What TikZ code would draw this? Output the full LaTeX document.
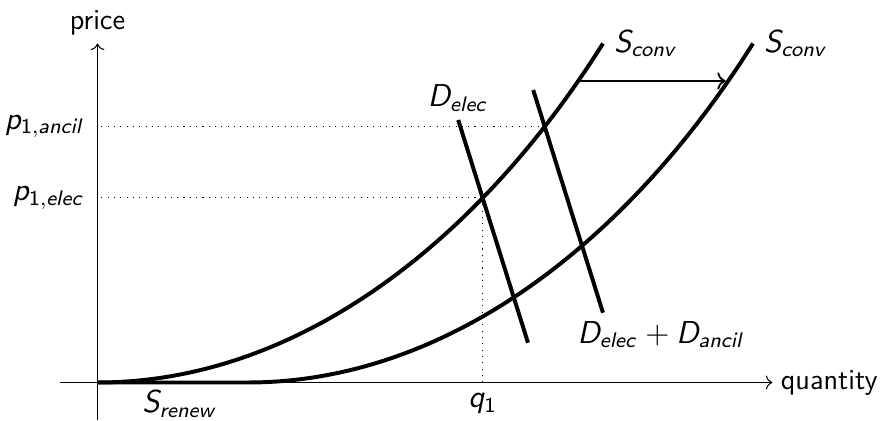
\documentclass[tikz,border=0pt]{standalone}
\usepackage{tikz}
\usetikzlibrary{arrows.meta, positioning, calc, intersections}
\renewcommand{\familydefault}{\sfdefault}
\DeclareMathAlphabet{\mathsfit}{OT1}{cmss}{m}{sl}
\SetSymbolFont{operators}{normal}{OT1}{cmss}{m}{n}
\newcommand{\mv}[1]{\mathsfit{#1}}
\tikzset{
    axis/.style={->, line width=0.4pt},
    supply/.style={line width=1.5pt},
    demand/.style={line width=1.5pt},
    guide/.style={dotted, line width=0.4pt},
    shiftarr/.style={->, line width=0.7pt, shorten >=1pt},
    lbl/.style={inner sep=3pt, font=\large},
    axislbl/.style={inner sep=3pt, font=\fontsize{11}{13}\selectfont},
}

\begin{document}
\begin{tikzpicture}

  \useasboundingbox (-1.3,-0.513) rectangle (10.567,5.1);

  % axes
  \coordinate (O) at (0,0);
  \draw[axis] (-0.5,0) -- (9,0) node[axislbl, right] (qty) {quantity};
  \draw[axis] (0,-0.5) -- (0,4.52) node[axislbl, above] (price) {price};

  % supply curves
  \draw[supply, name path=sconv] (O)
        .. controls (2.67,0) and (5.07,1.87) .. (6.74,4.52) coordinate (sconv end);
  \draw[supply, name path=sboth] (O) -- (2,0) coordinate (kink)
        .. controls (4.67,0) and (7.07,1.87) .. (8.74,4.52) coordinate (sboth end);

  \node[lbl, right=1pt of sconv end] (sconv lbl) {$\mv{S}_{\mv{conv}}$};
  \node[lbl, right=1pt of sboth end] (sboth lbl) {$\mv{S}_{\mv{conv}}$};
  \node[lbl, below=0pt] at ($(O)!0.55!(kink)$) (srenew lbl) {$\mv{S}_{\mv{renew}}$};

  % demand curves
  \draw[demand, name path=delec] (4.81,3.5) coordinate (delec top) -- (5.74,0.53) coordinate (delec bot);
  \draw[demand, name path=dtot] (5.81,3.9) coordinate (dtot top) -- (6.74,0.93) coordinate (dtot bot);

  \node[lbl, above=0pt of delec top] (delec lbl) {$\mv{D}_{\mv{elec}}$};
  \node[lbl, below right=0cm and -0.45cm of dtot bot] (dtot lbl) {$\mv{D}_{\mv{elec}} + \mv{D}_{\mv{ancil}}$};

  % equilibrium points
  \path[name intersections={of=sconv and delec, by=eqelec}];
  \path[name intersections={of=sconv and dtot, by=eqanc}];

  \coordinate (pelec) at (eqelec -| O);
  \coordinate (panc) at (eqanc -| O);
  \coordinate (qone) at (eqelec |- O);

  \draw[guide] ($(pelec)+(0.05,0)$) -- (eqelec);
  \draw[guide] ($(panc)+(0.05,0)$) -- (eqanc);
  \draw[guide] (eqelec) -- (qone);

  \node[lbl, left=0.06cm of pelec] (pelec lbl) {$\mv{p}_{1,\mv{elec}}$};
  \node[lbl, left=0.06cm of panc] (panc lbl) {$\mv{p}_{1,\mv{ancil}}$};
  \node[lbl, below=0.04cm of qone] (qone lbl) {$\mv{q}_1$};

  % shift of the supply curve
  \path[name path=shiftline] (0,4.02) -- (9,4.02);
  \path[name intersections={of=sconv and shiftline, by=shiftA}];
  \path[name intersections={of=sboth and shiftline, by=shiftB}];
  \draw[shiftarr] (shiftA) -- (shiftB);

\end{tikzpicture}
\end{document}
